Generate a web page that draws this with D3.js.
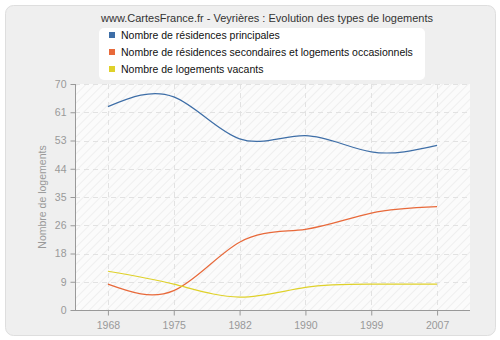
<!DOCTYPE html>
<html><head><meta charset="utf-8">
<script src="https://cdn.jsdelivr.net/npm/d3@7"></script>
<style>body{margin:0;background:#fff}svg{display:block;font-family:"Liberation Sans",Arial,sans-serif}</style>
</head><body><svg id="c" width="500" height="340"></svg>
<script>
const years = ["1968","1975","1982","1990","1999","2007"];
const principales = [63, 66, 53, 54, 49, 51];
const secondaires = [8, 6, 21, 25, 30, 32];
const vacants = [12, 8, 4, 7, 8, 8];
const yTicks = [0, 8.75, 17.5, 26.25, 35, 43.75, 52.5, 61.25, 70];
const seriesNames = ["Nombre de résidences principales","Nombre de résidences secondaires et logements occasionnels","Nombre de logements vacants"];
const colors = ["#3e6ea7","#e8693a","#dfd12a"];
const series = [principales, secondaires, vacants];

const svg = d3.select("#c");
const defs = svg.append("defs");
const pat = defs.append("pattern").attr("id","hatch").attr("patternUnits","userSpaceOnUse").attr("width",6).attr("height",6).attr("patternTransform","rotate(45)");
pat.append("rect").attr("width",6).attr("height",6).attr("fill","#fbfbfb");
pat.append("line").attr("x1",0).attr("y1",0).attr("x2",0).attr("y2",6).attr("stroke","#efefef").attr("stroke-width",2);

svg.append("rect").attr("x",5.5).attr("y",5.5).attr("width",490).attr("height",330).attr("rx",8)
  .attr("fill","#efefef").attr("stroke","#dedede");

const L=75, R=470, T=84, B=310;
const x = d3.scalePoint().domain(years).range([L,R]).padding(0.5);
const y = d3.scaleLinear().domain([0,70]).range([B,T]);

svg.append("rect").attr("x",L).attr("y",T).attr("width",R-L).attr("height",B-T).attr("fill","url(#hatch)");

// grid
svg.append("g").selectAll("line").data(yTicks.slice(1)).join("line")
  .attr("x1",L).attr("x2",R).attr("y1",d=>Math.round(y(d))+0.5).attr("y2",d=>Math.round(y(d))+0.5)
  .attr("stroke","#e2e2e2").attr("stroke-dasharray","5,4");
svg.append("g").selectAll("line").data(years).join("line")
  .attr("x1",d=>Math.round(x(d))+0.5).attr("x2",d=>Math.round(x(d))+0.5).attr("y1",T).attr("y2",B)
  .attr("stroke","#e2e2e2").attr("stroke-dasharray","5,4");

// axes
const xa = svg.append("g").attr("transform",`translate(0,${B+0.5})`)
  .call(d3.axisBottom(x).tickSize(5).tickPadding(6));
const ya = svg.append("g").attr("transform",`translate(${L+0.5},0)`)
  .call(d3.axisLeft(y).tickValues(yTicks).tickFormat(d=>Math.round(d)).tickSize(5).tickPadding(4));
[xa,ya].forEach(a=>{
  a.select(".domain").attr("stroke","#999");
  a.selectAll(".tick line").attr("stroke","#999");
  a.selectAll("text").attr("fill","#999").style("font-size","10.5px").style("font-family","Liberation Sans");
});
xa.select(".domain").attr("d",`M${L},0H${R}`);
ya.select(".domain").attr("d",`M0,${T}V${B}`);

svg.append("text").attr("transform",`translate(46,${(T+B)/2}) rotate(-90)`).attr("text-anchor","middle")
  .attr("fill","#999").style("font-size","10.5px").text("Nombre de logements");

// lines
const line = d3.line().x((d,i)=>x(years[i])).y(d=>y(d)).curve(d3.curveNatural);
series.forEach((s,k)=>{
  svg.append("path").datum(s).attr("d",line).attr("fill","none").attr("stroke",colors[k]).attr("stroke-width",1.2);
});

// title
svg.append("text").attr("x",267).attr("y",22).attr("text-anchor","middle").attr("fill","#333")
  .style("font-size","11px").text("www.CartesFrance.fr - Veyrières : Evolution des types de logements");

// legend
svg.append("rect").attr("x",99).attr("y",28).attr("width",326).attr("height",52).attr("rx",5).attr("fill","#fff");
seriesNames.forEach((n,i)=>{
  svg.append("rect").attr("x",109).attr("y",32+i*17).attr("width",6).attr("height",6).attr("fill",colors[i]);
  svg.append("text").attr("x",121).attr("y",39+i*17).attr("fill","#111").style("font-size","10.5px").text(n);
});
</script></body></html>
